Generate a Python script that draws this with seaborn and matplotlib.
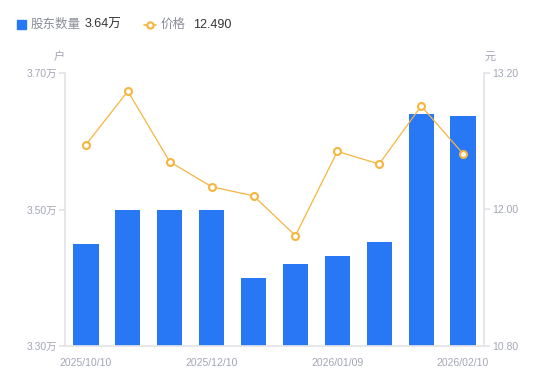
import numpy as np
import pandas as pd
import matplotlib
matplotlib.use("Agg")
import matplotlib.pyplot as plt
import seaborn as sns
from matplotlib.lines import Line2D

# ---- data ----
dates = ["2025/10/10", "2025/10/31", "2025/11/10", "2025/12/10", "2025/12/19",
         "2025/12/31", "2026/01/09", "2026/01/20", "2026/01/30", "2026/02/10"]
holders = [3.45, 3.50, 3.50, 3.50, 3.40, 3.42, 3.432, 3.452, 3.64, 3.637]  # 万户
price = [12.57, 13.04, 12.42, 12.20, 12.12, 11.77, 12.51, 12.40, 12.91, 12.49]  # 元
left_ticks = [3.30, 3.50, 3.70]
left_tick_labels = ["3.30万", "3.50万", "3.70万"]
right_ticks = [10.80, 12.00, 13.20]
right_tick_labels = ["10.80", "12.00", "13.20"]
xtick_idx = [0, 3, 6, 9]

sns.set_theme(style="white")
plt.rcParams['font.family'] = ['Liberation Sans', 'Noto Sans CJK SC', 'DejaVu Sans']

BLUE = "#2878f5"
ORANGE = "#f5b53f"
GRAY = "#a3a6b4"
AXC = "#e3e4e8"

fig = plt.figure(figsize=(5.5, 3.81), dpi=100)
ax = fig.add_axes([65/550, 35/381, (484-65)/550, (346-73)/381])

df = pd.DataFrame({"date": dates, "holders": holders, "price": price})
sns.barplot(data=df, x="date", y="holders", color=BLUE, saturation=1,
            width=0.6, linewidth=0, ax=ax)
ax.set_ylim(3.30, 3.70)
ax.set_xlim(-0.5, len(dates) - 0.5)
ax.set_yticks(left_ticks)
ax.set_yticklabels(left_tick_labels)
ax.set_xlabel("")
ax.set_ylabel("")

ax2 = ax.twinx()
sns.lineplot(x=np.arange(len(price)), y=price, ax=ax2, color=ORANGE,
             linewidth=0.9, marker="o", markersize=5, markerfacecolor="white",
             markeredgecolor=ORANGE, markeredgewidth=1.5)
ax2.set_ylim(10.80, 13.20)
ax2.set_yticks(right_ticks)
ax2.set_yticklabels(right_tick_labels)
ax2.set_ylabel("")
ax2.set_xlim(-0.5, len(dates) - 0.5)

ax.set_xticks(xtick_idx)
ax.set_xticklabels([dates[i] for i in xtick_idx])

for a in (ax, ax2):
    for s in a.spines.values():
        s.set_visible(False)
ax.spines["left"].set_visible(True)
ax.spines["left"].set_color(AXC)
ax.spines["bottom"].set_visible(True)
ax.spines["bottom"].set_color(AXC)
ax2.spines["right"].set_visible(True)
ax2.spines["right"].set_color(AXC)

ax.tick_params(axis="y", which="both", left=True, length=4, color=AXC,
               labelsize=7.5, labelcolor=GRAY, pad=2)
ax.tick_params(axis="x", bottom=False, labelsize=7.5, labelcolor=GRAY, pad=3)
ax2.tick_params(axis="y", right=True, length=4, color=AXC,
                labelsize=7.5, labelcolor=GRAY, pad=2)

fig.text(59/550, 1 - 57/381, "户", fontsize=8, color=GRAY, ha="center", va="center")
fig.text(490/550, 1 - 57/381, "元", fontsize=8, color=GRAY, ha="center", va="center")

# legend
fig.patches.append(plt.Rectangle((17/550, 1 - 29/381), 9/550, 9/381,
                                 transform=fig.transFigure, color=BLUE))
fig.text(31/550, 1 - 24.5/381, "股东数量", fontsize=9, color="#8a8d99", va="center")
fig.text(85/550, 1 - 24.5/381, "3.64万", fontsize=9, color="#333333", va="center")
fig.lines.append(Line2D([144/550, 156/550], [1 - 24.5/381, 1 - 24.5/381],
                        transform=fig.transFigure, color=ORANGE, linewidth=1.2))
fig.lines.append(Line2D([150/550], [1 - 24.5/381], transform=fig.transFigure,
                        color=ORANGE, marker="o", markersize=4.5,
                        markerfacecolor="white", markeredgewidth=1.5, linewidth=0))
fig.text(161/550, 1 - 24.5/381, "价格", fontsize=9, color="#8a8d99", va="center")
fig.text(193/550, 1 - 24.5/381, "12.490", fontsize=9, color="#333333", va="center")

fig.savefig("out.png", dpi=100)
